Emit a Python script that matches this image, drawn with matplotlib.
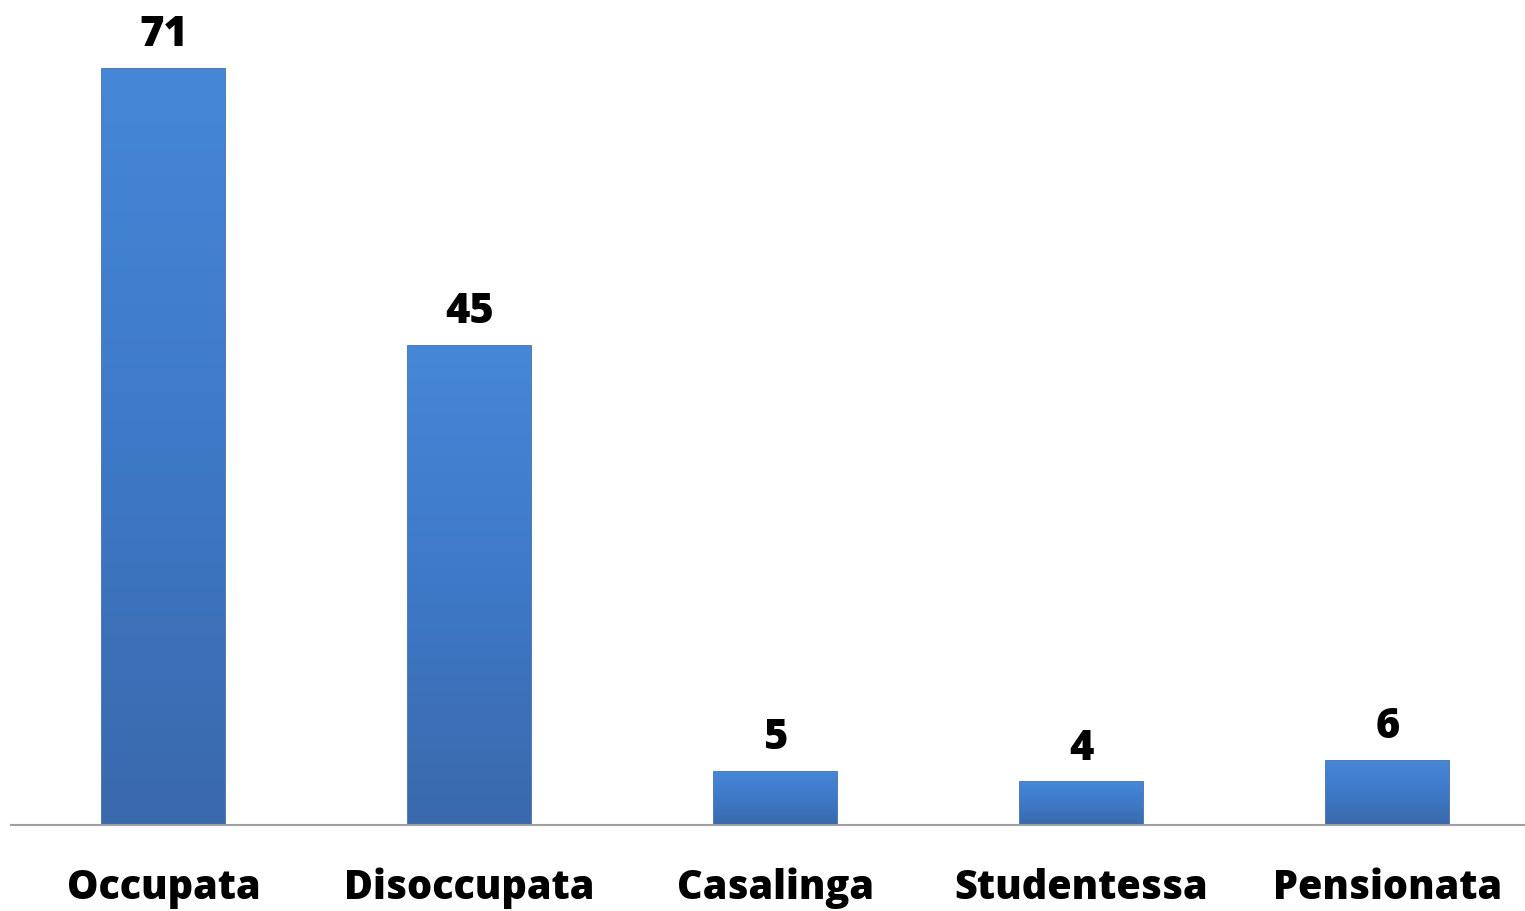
import matplotlib.pyplot as plt
import numpy as np
from matplotlib.colors import LinearSegmentedColormap

categories = ['Occupata', 'Disoccupata', 'Casalinga', 'Studentessa', 'Pensionata']
values = [71, 45, 5, 4, 6]

plt.rcParams['font.family'] = ['Open Sans', 'DejaVu Sans']

fig = plt.figure(figsize=(15.25, 9.12), dpi=100)
# axes runs a bit past the right edge like the original
ax = fig.add_axes([10.5 / 1525, 1 - 826 / 912, 1530 / 1525, 826 / 912])

x = np.arange(len(categories))
bars = ax.bar(x, values, width=0.4, color='#3F7CCB', edgecolor='#3463A3', linewidth=1.2, zorder=2)

# vertical gradient inside each bar
cmap = LinearSegmentedColormap.from_list('blu', ['#3A69AC', '#3E79C7', '#4687D8'])
grad = np.linspace(0, 1, 256).reshape(-1, 1)
for b in bars:
    x0, y0 = b.get_x(), b.get_y()
    w, h = b.get_width(), b.get_height()
    im = ax.imshow(grad, cmap=cmap, origin='lower', aspect='auto',
                   extent=(x0, x0 + w, y0, y0 + h), zorder=2.5)
    im.set_clip_path(b)

for xi, v in zip(x, values):
    ax.annotate(str(v), (xi, v), xytext=(0, 25), textcoords='offset points',
                ha='center', va='center', fontsize=30, fontweight='heavy')

ax.set_xlim(-0.5, len(categories) - 0.5)
ax.set_ylim(0, 826 / 10.65)
ax.set_xticks(x)
ax.set_xticklabels(categories, fontsize=28.5, fontweight='heavy')
ax.tick_params(axis='x', length=0, pad=30)
ax.set_yticks([])
for s in ['top', 'right', 'left']:
    ax.spines[s].set_visible(False)
ax.spines['bottom'].set_color('#A0A0A0')
ax.spines['bottom'].set_linewidth(1.5)

fig.savefig('out.png', dpi=100)
